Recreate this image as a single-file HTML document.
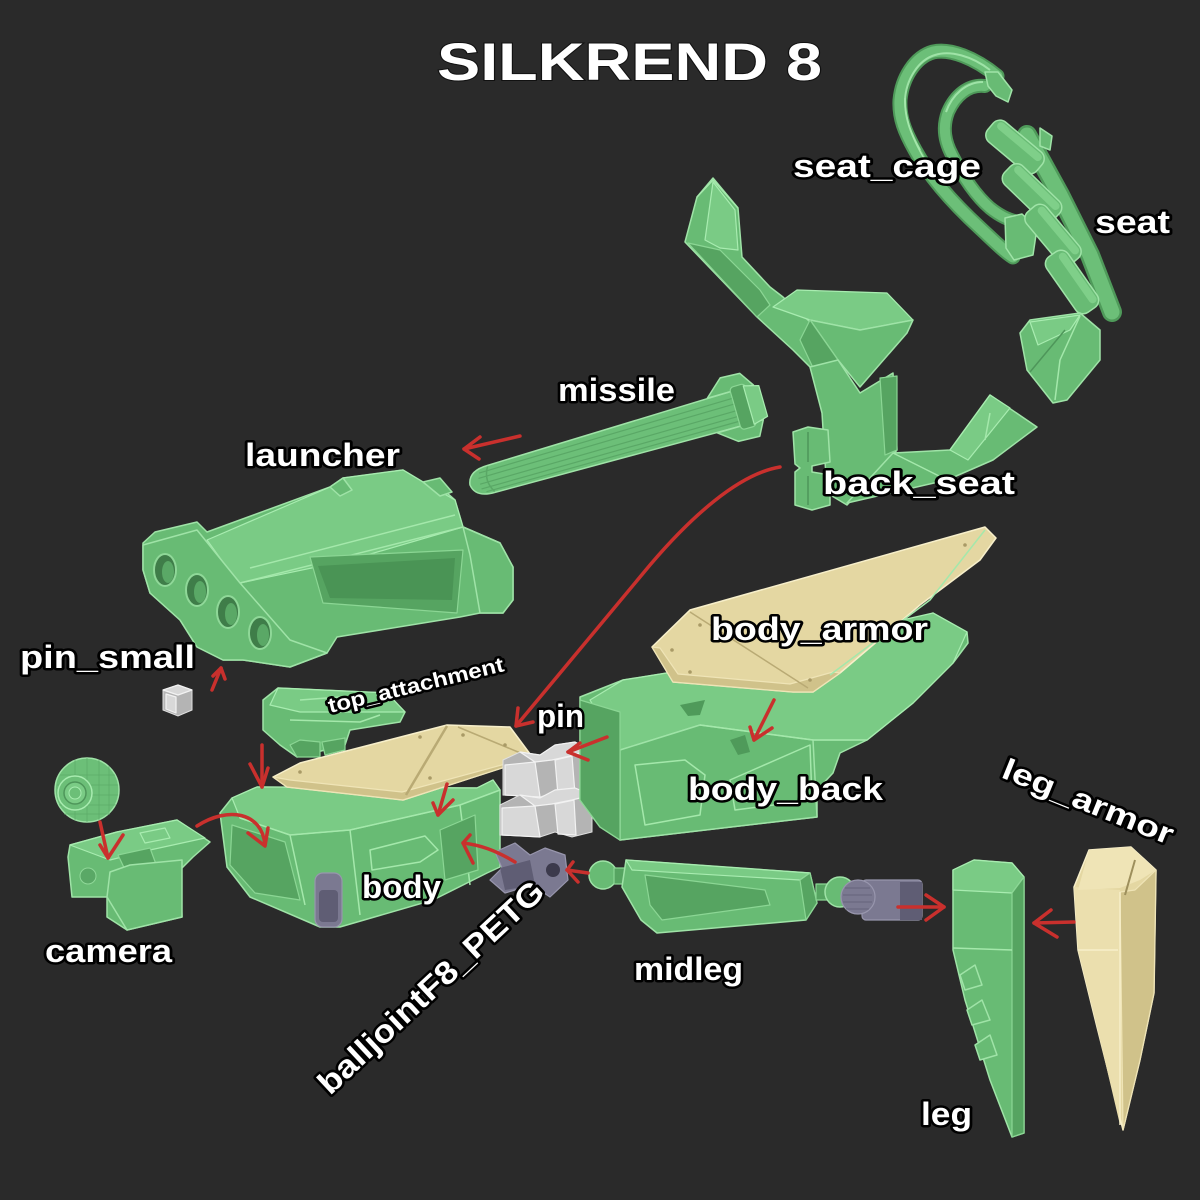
<!DOCTYPE html>
<html><head><meta charset="utf-8">
<style>
html,body{margin:0;padding:0;background:#2a2a2a;}
svg{display:block}
.lbl{font-family:"Liberation Sans",sans-serif;font-weight:bold;fill:#fff;stroke:#000;stroke-width:5;paint-order:stroke;stroke-linejoin:round}
.g{fill:#68bb74;stroke:#9fe3a7;stroke-width:1.5;stroke-linejoin:round}
.gd{fill:#56a461;stroke:#8bd694;stroke-width:1.2;stroke-linejoin:round}
.gl{fill:#7acb85;stroke:#a8ecb0;stroke-width:1.2;stroke-linejoin:round}
.c{fill:#e4d7a2;stroke:#f7efca;stroke-width:1.5;stroke-linejoin:round}
.cd{fill:#d0c28a;stroke:#efe4b6;stroke-width:1.2;stroke-linejoin:round}
.gy{fill:#d8d8d8;stroke:#f2f2f2;stroke-width:1.2;stroke-linejoin:round}
.gyd{fill:#b4b4b4;stroke:#e0e0e0;stroke-width:1}
.pu{fill:#7b7991;stroke:#9896ad;stroke-width:1.2;stroke-linejoin:round}
.pud{fill:#5f5d74}
.ln{fill:none;stroke:#a4e8ab;stroke-width:1.5;stroke-linejoin:round}
.lnd{fill:none;stroke:#4e965a;stroke-width:1.5}
.ar{fill:none;stroke:#c9302d;stroke-width:3.5;stroke-linecap:round;stroke-linejoin:round}
</style></head><body>
<svg width="1200" height="1200" viewBox="0 0 1200 1200" xmlns="http://www.w3.org/2000/svg">
<rect width="1200" height="1200" fill="#2a2a2a"/>

<!-- Title -->
<text x="437" y="80" font-size="53" textLength="385" lengthAdjust="spacingAndGlyphs" fill="#fff" stroke="#111" stroke-width="2" paint-order="stroke" font-family="Liberation Sans, sans-serif" font-weight="bold">SILKREND 8</text>

<!-- ===== seat_cage ===== -->
<g>
  <path d="M997,76 C975,58 950,48 933,52 C915,57 902,78 900,100 C899,118 905,132 915,150 C930,178 955,205 980,228 C995,242 1005,252 1013,257" fill="none" stroke="#4f9a5a" stroke-width="15" stroke-linecap="round"/>
  <path d="M997,76 C975,58 950,48 933,52 C915,57 902,78 900,100 C899,118 905,132 915,150 C930,178 955,205 980,228 C995,242 1005,252 1013,257" fill="none" stroke="#6cbf78" stroke-width="11" stroke-linecap="round"/>
  <path d="M990,70 C972,56 950,50 935,55 C918,60 906,80 905,100 C905,118 910,132 920,150" fill="none" stroke="#9fe3a7" stroke-width="2"/>
  <path d="M985,86 C968,84 955,96 948,112 C942,128 945,142 952,155 C962,175 975,195 990,208 C1000,216 1010,221 1020,222" fill="none" stroke="#4f9a5a" stroke-width="14" stroke-linecap="round"/>
  <path d="M985,86 C968,84 955,96 948,112 C942,128 945,142 952,155 C962,175 975,195 990,208 C1000,216 1010,221 1020,222" fill="none" stroke="#6cbf78" stroke-width="10" stroke-linecap="round"/>
  <path d="M983,82 C966,82 952,95 946,112" fill="none" stroke="#9fe3a7" stroke-width="2"/>
  <polygon class="g" points="985,72 998,72 1012,90 1008,102 996,96 988,86"/>
  <polygon class="g" points="1005,218 1022,214 1037,228 1033,255 1014,260 1006,248"/>
  <path class="ln" d="M905,98 C904,120 915,145 930,168"/>
</g>

<!-- ===== seat ===== -->
<g>
  <path d="M1027,135 L1060,195 L1090,255 L1112,312" stroke="#4f9a5a" stroke-width="20" fill="none" stroke-linecap="round"/>
  <path d="M1027,135 L1060,195 L1090,255 L1112,312" stroke="#6cbf78" stroke-width="15" fill="none" stroke-linecap="round"/>
  <g transform="translate(1015,147) rotate(40)"><rect x="-32" y="-13" width="64" height="26" rx="9" class="g"/><rect x="-28" y="-11" width="56" height="8" rx="4" fill="#7fcf89"/></g>
  <g transform="translate(1032,193) rotate(44)"><rect x="-34" y="-13" width="68" height="26" rx="9" class="g"/><rect x="-30" y="-11" width="60" height="8" rx="4" fill="#7fcf89"/></g>
  <g transform="translate(1053,235) rotate(50)"><rect x="-34" y="-13" width="68" height="26" rx="9" class="g"/><rect x="-30" y="-11" width="60" height="8" rx="4" fill="#7fcf89"/></g>
  <g transform="translate(1072,282) rotate(55)"><rect x="-34" y="-13" width="68" height="26" rx="9" class="g"/><rect x="-30" y="-11" width="60" height="8" rx="4" fill="#7fcf89"/></g>
  <polygon class="g" points="1040,128 1052,136 1050,150 1040,146"/>
  <polygon class="g" points="1020,333 1030,320 1080,313 1100,330 1100,360 1067,400 1053,403 1027,370"/>
  <polygon class="gl" points="1030,322 1080,315 1070,330 1038,345"/>
  <path class="ln" d="M1080,316 L1060,360 L1055,400"/>
  <path class="lnd" d="M1030,372 L1065,330"/>
</g>

<!-- ===== back_seat ===== -->
<g>
  <polygon class="g" points="713,178 738,208 742,257 770,287 783,297 810,322 827,413 810,367 793,350 757,317 685,242 697,197"/>
  <polygon class="gl" points="713,182 735,210 738,250 720,248 705,240"/>
  <polygon class="gd" points="688,243 720,250 760,290 770,305 757,317"/>
  <path class="ln" d="M697,197 L713,180 L738,208"/>
  <polygon class="gl" points="773,307 797,290 887,293 913,320 860,330 810,320"/>
  <polygon class="g" points="810,320 860,330 913,320 907,333 860,387 838,360"/>
  <polygon class="gd" points="810,320 838,360 815,372 800,340"/>
  <polygon class="g" points="810,367 838,360 860,393 893,373 897,450 880,470 847,505 827,493 822,413"/>
  <polygon class="gd" points="880,378 897,376 897,450 885,455"/>
  <polygon class="g" points="793,432 808,427 828,430 830,462 812,466 812,472 830,475 830,505 812,510 795,505 795,472 800,468 795,464"/>
  <path class="lnd" d="M808,432 L808,462 M808,476 L808,505"/>
  <polygon class="g" points="847,503 893,453 950,450 990,395 1037,427 993,460 947,480"/>
  <polygon class="gl" points="950,450 990,395 1010,408 968,460"/>
  <path class="ln" d="M893,453 L947,480 M990,413 L985,440"/>
</g>

<!-- ===== missile ===== -->
<g transform="translate(470,485) rotate(-16)">
  <path d="M0,0 Q2,-14 22,-14 L278,-18 L278,18 L22,14 Q2,14 0,0 Z" fill="#6cbf78" stroke="#9fe3a7" stroke-width="1.5"/>
  <path d="M12,-9 L278,-11 M10,-4 L278,-5 M10,2 L278,2 M10,7 L278,8 M14,11 L278,13" stroke="#5aa866" stroke-width="1.2" fill="none"/>
  <path d="M22,-13 Q14,0 22,13" stroke="#5aa866" stroke-width="1.5" fill="none"/>
  <polygon class="g" points="252,-18 270,-34 290,-33 300,-18"/>
  <polygon class="g" points="252,18 270,32 292,33 300,18"/>
  <rect x="276" y="-22" width="16" height="44" rx="4" class="gd"/>
  <polygon class="gl" points="290,-20 305,-16 305,16 290,20"/>
</g>

<!-- ===== launcher ===== -->
<g>
  <polygon class="g" points="143,543 155,532 197,522 207,532 330,487 343,478 403,470 423,482 447,493 455,500 463,527 500,543 513,567 513,600 503,613 480,613 460,617 337,637 327,653 290,667 243,660 223,660 197,647 180,620 150,593 143,570"/>
  <polygon class="gl" points="207,540 330,487 343,478 403,470 423,482 455,500 463,527 350,560 240,583 225,565"/>
  <path class="ln" d="M240,583 L463,527 L500,543 M250,568 L455,515"/>
  <polygon class="gd" points="310,557 463,550 457,613 323,603"/>
  <polygon fill="#4a9455" points="318,566 455,558 452,600 330,598"/>
  <polygon class="g" points="463,527 500,543 513,567 513,600 503,613 480,613 470,555"/>
  <polygon class="g" points="143,545 197,530 240,583 290,640 327,653 290,667 243,660 223,660 197,647 180,620 150,593 143,570"/>
  <g fill="#3f7d49" stroke="#8fd898" stroke-width="2">
    <ellipse cx="165" cy="570" rx="11" ry="16"/>
    <ellipse cx="197" cy="590" rx="11" ry="16"/>
    <ellipse cx="228" cy="612" rx="11" ry="16"/>
    <ellipse cx="260" cy="633" rx="11" ry="16"/>
  </g>
  <g fill="#5aa866">
    <ellipse cx="168" cy="572" rx="6" ry="11"/>
    <ellipse cx="200" cy="592" rx="6" ry="11"/>
    <ellipse cx="231" cy="614" rx="6" ry="11"/>
    <ellipse cx="263" cy="635" rx="6" ry="11"/>
  </g>
  <polygon class="g" points="330,487 343,478 352,490 340,496"/>
  <polygon class="g" points="423,482 440,478 452,492 440,496"/>
</g>

<!-- ===== pin_small ===== -->
<g>
  <polygon class="gyd" points="163,690 178,685 192,690 192,710 178,716 163,710"/>
  <polygon class="gy" points="163,690 178,685 192,690 178,695"/>
  <polygon class="gy" points="166,694 176,697 176,713 166,709"/>
</g>

<!-- ===== top_attachment ===== -->
<g>
  <polygon class="g" points="263,700 278,688 387,693 405,712 400,722 350,730 345,745 297,757 280,745 263,730"/>
  <polygon class="gl" points="278,688 387,693 405,712 300,712 270,705"/>
  <polygon class="gd" points="290,745 300,740 320,742 320,757 297,757"/>
  <polygon class="gd" points="322,742 345,738 345,750 325,755"/>
  <path class="ln" d="M290,720 L360,722 L380,715 M300,700 L340,697"/>
</g>

<!-- ===== camera ===== -->
<g>
  <circle cx="87" cy="790" r="32" fill="#6cbf78" stroke="#9fe3a7" stroke-width="1.5"/>
  <g stroke="#5aa866" stroke-width="0.8" fill="none" opacity="0.8">
    <path d="M60,775 L115,775 M57,785 L118,785 M57,795 L118,795 M59,805 L116,805 M64,814 L110,814"/>
    <path d="M75,760 L75,820 M87,758 L87,822 M99,760 L99,820 M109,766 L109,814"/>
  </g>
  <circle cx="75" cy="793" r="17" fill="#6cbf78" stroke="#a8ecb0" stroke-width="1.5"/>
  <circle cx="75" cy="793" r="11" fill="#7acb85" stroke="#4e965a" stroke-width="1.5"/>
  <circle cx="75" cy="793" r="6" fill="#6cbf78" stroke="#a8ecb0" stroke-width="1"/>
  <polygon class="g" points="70,845 117,832 177,820 210,842 193,857 180,870 182,917 127,930 107,917 107,897 72,897 68,857"/>
  <polygon class="gl" points="70,845 117,832 177,820 205,838 150,850 110,860"/>
  <polygon class="gd" points="118,855 150,848 160,875 130,880"/>
  <polygon class="g" points="107,897 110,872 130,865 182,860 182,917 127,930"/>
  <polygon class="gl" points="140,833 165,828 170,838 145,843"/>
  <circle cx="88" cy="876" r="8" fill="#5aa866" stroke="#8fd898"/>
</g>

<!-- ===== body ===== -->
<g>
  <polygon class="g" points="220,813 232,798 257,787 477,788 493,780 500,790 500,867 487,873 433,900 340,927 320,927 250,897 227,867"/>
  <polygon class="gl" points="232,798 257,787 477,788 493,780 500,790 460,805 350,830 290,835 240,818"/>
  <polygon class="gd" points="232,825 285,842 300,900 255,893 230,865"/>
  <path class="ln" d="M240,818 L290,835 L350,830 L460,805 L500,790 M290,835 L305,905 M350,830 L360,915 M460,805 L470,885"/>
  <polygon class="ln" points="370,850 425,836 438,850 420,862 372,870"/>
  <polygon class="gd" points="440,830 475,815 478,870 445,880"/>
  <rect x="315" y="873" width="27" height="54" rx="8" class="pu"/>
  <rect x="319" y="890" width="19" height="32" rx="4" class="pud"/>
</g>

<!-- plate on body -->
<g>
  <polygon class="c" points="273,777 300,763 447,725 510,727 533,758 403,800 287,787"/>
  <polygon class="cd" points="273,777 287,787 403,800 533,758 520,760 402,792 290,780"/>
  <path d="M447,726 L406,795" stroke="#b9aa74" stroke-width="2.5" fill="none"/>
  <path d="M458,727 L530,757" stroke="#b9aa74" stroke-width="1.5" fill="none"/>
  <g fill="#a99a66"><circle cx="300" cy="772" r="1.8"/><circle cx="420" cy="737" r="1.8"/><circle cx="463" cy="735" r="1.8"/><circle cx="505" cy="745" r="1.8"/><circle cx="430" cy="778" r="1.8"/></g>
</g>

<!-- ===== pin (gray) ===== -->
<g>
  <polygon class="gyd" points="503,760 520,752 540,755 555,745 575,742 590,750 590,790 570,797 555,792 540,797 503,795"/>
  <polygon class="gy" points="520,752 540,755 555,745 575,742 590,750 570,756 552,760 535,762"/>
  <polygon class="gy" points="505,765 535,762 540,797 505,795"/>
  <polygon class="gy" points="555,760 572,756 575,794 558,795"/>
  <polygon class="gyd" points="500,805 520,795 540,798 555,790 575,788 592,795 592,832 572,837 555,832 540,837 500,835"/>
  <polygon class="gy" points="520,795 540,798 555,790 575,788 592,795 572,800 552,804 535,806"/>
  <polygon class="gy" points="502,808 535,806 540,837 502,835"/>
  <polygon class="gy" points="555,804 574,800 576,835 558,834"/>
</g>

<!-- ===== balljoint ===== -->
<g>
  <polygon class="pu" points="495,852 515,843 530,855 545,848 565,855 568,880 550,897 532,885 505,893 490,880 502,868"/>
  <polygon class="pud" points="500,868 530,860 535,885 505,890"/>
  <circle cx="553" cy="870" r="7" fill="#3c3a4c"/>
</g>

<!-- ===== body_back ===== -->
<g>
  <polygon class="g" points="580,697 623,680 667,673 800,655 880,625 923,620 933,613 967,632 968,643 953,663 913,703 867,740 840,753 833,773 817,790 817,817 620,840 600,827 580,800"/>
  <polygon class="gl" points="590,700 623,680 667,673 800,655 880,625 933,613 967,632 953,663 913,703 867,740 813,740 700,725 620,750"/>
  <polygon class="g" points="620,750 700,725 813,740 817,817 620,840"/>
  <polygon class="gd" points="580,700 620,712 620,840 600,827 580,800"/>
  <polygon class="ln" points="635,765 685,760 705,775 700,815 645,825"/>
  <polygon class="ln" points="730,780 810,745 812,800 735,810"/>
  <polygon fill="#4f9a5a" points="730,740 745,735 750,752 738,755"/>
  <polygon fill="#4f9a5a" points="680,705 705,700 700,715 688,716"/>
  <path class="ln" d="M700,725 L813,740 L867,740"/>
</g>

<!-- ===== body_armor ===== -->
<g>
  <polygon class="c" points="652,647 690,610 985,527 996,538 980,560 920,605 840,673 813,692 793,692 673,682"/>
  <polygon class="cd" points="652,647 673,682 793,692 813,692 840,673 833,672 790,684 678,674 660,648"/>
  <path d="M690,612 L808,688" stroke="#b9aa74" stroke-width="1.5" fill="none"/>
  <path class="ln" d="M985,530 L930,600 L830,675" stroke="#fff6d2"/>
  <g fill="#a99a66"><circle cx="672" cy="650" r="1.8"/><circle cx="690" cy="672" r="1.8"/><circle cx="810" cy="680" r="1.8"/><circle cx="965" cy="545" r="1.8"/><circle cx="700" cy="625" r="1.8"/></g>
</g>

<!-- ===== midleg ===== -->
<g>
  <circle cx="603" cy="875" r="14" class="g"/>
  <rect x="614" y="868" width="14" height="16" class="gd"/>
  <polygon class="g" points="626,860 810,873 817,903 806,920 657,933 641,920 622,887"/>
  <polygon class="gl" points="626,860 810,873 800,880 632,870"/>
  <polygon class="gd" points="645,875 765,890 770,905 662,920 650,905"/>
  <polygon class="gd" points="810,873 817,903 806,920 800,880"/>
  <rect x="816" y="884" width="12" height="16" class="gd"/>
  <circle cx="840" cy="892" r="15" class="g"/>
  <rect x="862" y="880" width="60" height="40" rx="4" class="pu"/>
  <circle cx="858" cy="897" r="17" class="pu"/>
  <g stroke="#5f5d74" stroke-width="0.8"><path d="M845,888 L870,888 M843,895 L872,895 M843,902 L872,902 M846,909 L869,909"/></g>
  <rect x="900" y="882" width="22" height="38" class="pud"/>
</g>

<!-- ===== leg ===== -->
<g>
  <polygon class="g" points="953,870 974,860 1012,863 1024,877 1024,1133 1012,1137 990,1080 965,1000 953,950"/>
  <polygon class="gl" points="953,870 974,860 1012,863 1024,877 1012,893 953,890"/>
  <polygon class="gd" points="1012,893 1024,877 1024,1133 1012,1137"/>
  <path class="ln" d="M953,948 L1012,950"/>
  <polygon class="g" points="960,975 975,965 982,985 965,990"/>
  <polygon class="g" points="967,1010 982,1000 990,1020 972,1025"/>
  <polygon class="g" points="975,1045 990,1035 997,1055 980,1060"/>
</g>

<!-- ===== leg_armor ===== -->
<g>
  <polygon class="c" points="1089,850 1131,847 1156,870 1154,993 1140,1060 1123,1130 1097,1027 1078,950 1074,887"/>
  <polygon fill="#ebdfae" points="1074,887 1120,890 1120,1125 1097,1027 1078,950"/>
  <polygon class="cd" points="1120,892 1135,890 1156,870 1154,993 1140,1060 1123,1130"/>
  <polygon fill="#efe4b6" points="1089,850 1131,847 1156,870 1140,880 1120,888 1078,890"/>
  <path d="M1120,892 L1120,1125 M1078,950 L1118,950" stroke="#f7efca" stroke-width="1.5" fill="none"/>
  <path d="M1135,860 L1125,895" stroke="#9d8f5c" stroke-width="2" fill="none"/>
</g>

<!-- ===== red arrows ===== -->
<g class="ar">
  <path d="M520,436 L464,449"/><path d="M480,437 L464,449 L479,459"/>
  <path d="M780,467 C738,474 690,518 650,565 L516,726"/><path d="M518,708 L516,726 L533,722"/>
  <path d="M212,690 L221,668"/><path d="M213,676 L221,668 L225,679"/>
  <path d="M262,745 L262,787"/><path d="M250,764 L262,787 L268,768"/>
  <path d="M100,822 L108,858"/><path d="M100,845 L108,858 L123,835"/>
  <path d="M197,826 C228,806 262,812 265,845"/><path d="M248,833 L265,846 L268,828"/>
  <path d="M447,784 L438,815"/><path d="M433,803 L438,815 L453,800"/>
  <path d="M607,737 L568,752"/><path d="M580,743 L568,752 L588,760"/>
  <path d="M774,700 L754,740"/><path d="M750,727 L754,740 L772,728"/>
  <path d="M515,862 C495,850 480,845 463,843"/><path d="M470,835 L463,843 L473,863"/>
  <path d="M588,873 L567,870"/><path d="M573,862 L567,870 L578,882"/>
  <path d="M898,907 L944,907"/><path d="M926,895 L944,907 L926,920"/>
  <path d="M1074,922 L1034,923"/><path d="M1051,910 L1034,923 L1057,937"/>
</g>

<!-- ===== labels ===== -->
<text class="lbl" x="793" y="177" font-size="32" textLength="188" lengthAdjust="spacingAndGlyphs">seat_cage</text>
<text class="lbl" x="1095" y="233" font-size="32" textLength="75" lengthAdjust="spacingAndGlyphs">seat</text>
<text class="lbl" x="558" y="401" font-size="32" textLength="117" lengthAdjust="spacingAndGlyphs">missile</text>
<text class="lbl" x="245" y="466" font-size="32" textLength="155" lengthAdjust="spacingAndGlyphs">launcher</text>
<text class="lbl" x="823" y="494" font-size="32" textLength="192" lengthAdjust="spacingAndGlyphs">back_seat</text>
<text class="lbl" x="711" y="640" font-size="32" textLength="217" lengthAdjust="spacingAndGlyphs">body_armor</text>
<text class="lbl" x="20" y="668" font-size="32" textLength="175" lengthAdjust="spacingAndGlyphs">pin_small</text>
<text class="lbl" x="537" y="727" font-size="32" textLength="47" lengthAdjust="spacingAndGlyphs">pin</text>
<text class="lbl" x="688" y="800" font-size="32" textLength="195" lengthAdjust="spacingAndGlyphs">body_back</text>
<text class="lbl" x="362" y="898" font-size="32" textLength="79" lengthAdjust="spacingAndGlyphs">body</text>
<text class="lbl" x="45" y="962" font-size="32" textLength="127" lengthAdjust="spacingAndGlyphs">camera</text>
<text class="lbl" x="634" y="980" font-size="32" textLength="109" lengthAdjust="spacingAndGlyphs">midleg</text>
<text class="lbl" x="921" y="1125" font-size="32" textLength="51" lengthAdjust="spacingAndGlyphs">leg</text>
<text class="lbl" font-size="21" stroke-width="4" textLength="180" lengthAdjust="spacingAndGlyphs" transform="translate(330,713) rotate(-13.5)">top_attachment</text>
<text class="lbl" font-size="30" textLength="182" lengthAdjust="spacingAndGlyphs" transform="translate(1000,777) rotate(22)">leg_armor</text>
<text class="lbl" font-size="32" textLength="296" lengthAdjust="spacingAndGlyphs" transform="translate(330,1096) rotate(-43)">balljointF8_PETG</text>
</svg>
</body></html>
